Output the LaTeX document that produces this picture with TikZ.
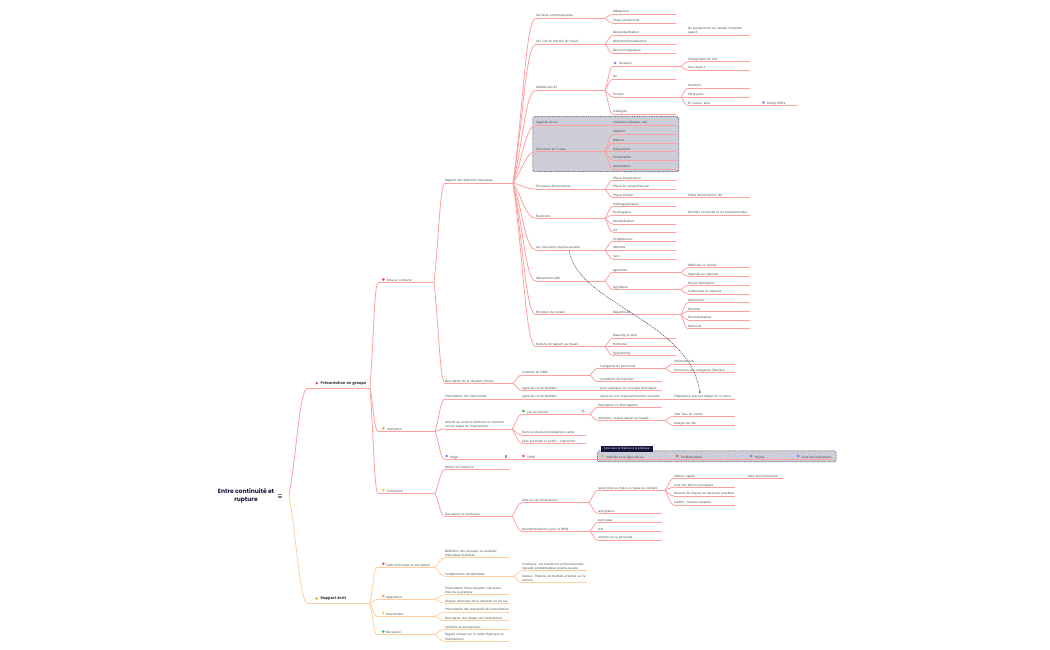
\documentclass[tikz,border=0pt]{standalone}
\usepackage{fontspec}
\setmainfont{Open Sans}
\newfontfamily\headfont{Poppins}
\usetikzlibrary{calc,arrows.meta}
\definecolor{redbr}{HTML}{FFA0A0}
\definecolor{orbr}{HTML}{FFCF9F}
\definecolor{ink}{HTML}{3A3A3A}
\definecolor{navy}{HTML}{14143C}
\definecolor{panel}{HTML}{CDCED7}
\definecolor{icred}{HTML}{F2545B}
\definecolor{icor}{HTML}{F9A64A}
\definecolor{icye}{HTML}{FBD230}
\definecolor{icgr}{HTML}{2FC76A}
\definecolor{icbl}{HTML}{7490F5}
\definecolor{icvi}{HTML}{8A7FE8}
\colorlet{br}{redbr}
\tikzset{
 topic/.style={anchor=south west,inner xsep=0pt,inner ysep=1.3pt,outer sep=0pt,text depth=0pt,text=ink,font=\fontsize{3.05}{4.3}\selectfont},
 uline/.style={draw=br,line width=.8pt},
 link/.style={draw=br,line width=.8pt},
 icondot/.style={circle,inner sep=0pt,minimum size=3pt},
 panelbox/.style={draw=navy!85,dashed,dash pattern=on 1pt off .7pt,line width=.5pt,fill=panel,rounded corners=1.5pt,inner sep=0pt,anchor=north west},
}
\newcommand\mywline[2]{\vbox{\hbox{#1}\hbox{#2}}}
\newcommand\myhead[1]{\raisebox{2pt}{\headfont\fontsize{3.75}{5}\selectfont\bfseries #1}}
% \T[offset]{id}{x0}{x1}{yline}{text}
\newcommand\T[6][0]{%
 \pgfmathsetmacro\mylen{#4-#3}%
 \node[topic,minimum width=\mylen pt,text width=\mylen pt] (#2) at (#3,#5) {\hbox{\kern#1pt#6}};
 \coordinate (#2-e) at (#2.south east);
}
\newcommand\C[2]{%
 \coordinate (m) at ($(#1-e)!.55!(#2.south west)$);
 \draw[link] (#1-e) .. controls ($(#1-e)!.45!(#2.south west)$) and (m |- #2.south west) .. (#2.south west);
 \draw[uline] (#2.south west) -- (#2.south east);
}
% \N[offset]{id}{parent}{text}{x0}{x1}{yline}
\newcommand\N[7][0]{\T[#1]{#2}{#5}{#6}{#7}{#4}\C{#3}{#2}}
\begin{document}
\begin{tikzpicture}[x=1pt,y=-1pt]
\useasboundingbox (0,0) rectangle (1050,650);
% panels
\node[panelbox,minimum width=146pt,minimum height=55pt] (boxa) at (532.5,116.5) {};
\node[panelbox,minimum width=238.5pt,minimum height=11pt] (boxb) at (597.3,450.7) {};
\node[anchor=north west,fill=navy,text=white,inner sep=0pt,minimum width=51.6pt,minimum height=6pt,font=\fontsize{2.9}{3}\selectfont] (boxl) at (600.7,445.3) {Sens avec la théorie et la pratique};
% root
\node[align=center,font=\headfont\fontsize{6}{8}\selectfont\bfseries,text=navy,inner sep=0pt] (root) at (246,496) {Entre continuité et\\rupture};
\coordinate (root-e) at (289,495.7);
\node[inner sep=0pt,minimum width=4pt,minimum height=3pt] (rooticon) at (280,495.7) {};
\draw[black!50,line width=.35pt] (278,494.4)--(282,494.4) (278,495.7)--(282,495.7) (278,497)--(282,497);
% ---------- red branch
\T[12.7]{pres}{308}{370}{388}{\myhead{Présentation en groupe}}
\C{root}{pres}
\N[9]{mise}{pres}{Mise en contexte}{378}{434}{282.7}
\N[9]{anim}{pres}{Animation}{378}{435}{431.3}
\N[9]{conc}{pres}{Conclusion}{378}{435}{493.3}
\N{rapp}{mise}{Rapport des éléments théoriques}{445}{513}{183}
\N{desc}{mise}{Description de la situation choisie}{445}{513}{383.3}
% Rapport children
\N{carr}{rapp}{Carrières contemporaines}{536}{605}{18.3}
\N{meta}{carr}{Métaphore}{613}{676}{14.3}
\N{chao}{carr}{Chaos vocationnel}{613}{676}{23.3}
\N{marc}{rapp}{Les 5 M du marché du travail}{536}{605}{44.3}
\N{dest}{marc}{Déstandardisation}{613}{681}{35.3}
\N{deso}{dest}{\mywline{De positionnent sur études n'importe}{quand}}{688}{750}{35.3}
\N{desi}{marc}{Désinstitutionnalisation}{613}{676}{44.3}
\N{dech}{marc}{Déchronologisation}{613}{676}{53}
\N{mode}{rapp}{Modèle des 4S}{536}{605}{90.3}
\N[6]{situ}{mode}{Situation}{613}{681}{66.3}
\N{chan}{situ}{Changement de rôle}{688}{750}{61.7}
\N{sous}{situ}{Sous-sujet 2}{688}{750}{70.3}
\N{soi}{mode}{Soi}{613}{676}{79.3}
\N{sout}{mode}{Soutien}{613}{681}{97}
\N{inse}{sout}{Insertion}{688}{750}{88.3}
\N{pert}{sout}{Perte pairs}{688}{750}{97}
\N{ensu}{sout}{En Suisse: aléa}{688}{755}{105.7}
\N[6]{fami}{ensu}{Family Office}{761}{797}{105.7}
\N{stra}{mode}{Stratégies}{613}{676}{114.3}
\N{lege}{rapp}{Légende de vie}{536}{605}{125.3}
\N{anip}{lege}{Animation (plateau, etc)}{613}{676}{125.3}
\N{incu}{rapp}{L'incursion en 5 axes}{536}{605}{151.7}
\N{mate}{incu}{Matérité}{613}{676}{134.3}
\N{mait}{incu}{Maîtrise}{613}{676}{143}
\N{subj}{incu}{Subjectivités}{613}{676}{151.7}
\N{temp}{incu}{Temporalités}{613}{676}{160.3}
\N{arti}{incu}{Articulations}{613}{676}{169}
\N{proc}{rapp}{Processus d'intervention}{536}{605}{189}
\N{pexp}{proc}{Phase d'exploration}{613}{676}{180.3}
\N{pcom}{proc}{Phase de compréhension}{613}{676}{189}
\N{pact}{proc}{Phase d'action}{613}{681}{197.7}
\N{pist}{pact}{Pistes d'intervention (FI)}{688}{750}{197.7}
\N{evol}{rapp}{Évolutions}{536}{605}{218.3}
\N{hete}{evol}{Hétérographiques}{613}{676}{206.3}
\N{soci}{evol}{Sociologique}{613}{681}{215}
\N{fron}{soci}{frontière vie privée et vie professionnelle}{688}{750}{215}
\N{mond}{evol}{Mondialisation}{613}{676}{224}
\N{quat}{evol}{4.0}{613}{676}{232.3}
\N{tran}{rapp}{Les transitions psycho-sociales}{536}{605}{250}
\N{comp}{tran}{Compétences}{613}{676}{241.3}
\N{iden}{tran}{Identités}{613}{676}{250}
\N{sens}{tran}{Sens}{613}{676}{259}
\N{meca}{rapp}{Mécanismes (MI)}{536}{605}{281}
\N{agen}{meca}{Agentivité}{613}{681}{272.3}
\N{mtri}{agen}{Maîtrisée ou choisie}{688}{750}{267.7}
\N{impo}{agen}{Imposée ou imposée}{688}{750}{276.3}
\N{sign}{meca}{Signifiance}{613}{681}{289.7}
\N{enje}{sign}{Enjeux identitaires}{688}{750}{285.3}
\N{cont}{sign}{Continuités et ruptures}{688}{750}{294}
\N{entr}{rapp}{Entretien de conseil}{536}{605}{314.7}
\N{rega}{entr}{Regard/outil}{613}{681}{314.7}
\N{refo}{rega}{Reformuler}{688}{750}{302.7}
\N{resu}{rega}{Résumer}{688}{750}{311.3}
\N{reco}{rega}{Recontextualiser}{688}{750}{320}
\N{renf}{rega}{Renforcer}{688}{750}{328.7}
\N{noti}{rapp}{Notions de rapport au travail}{536}{605}{346.7}
\N{mean}{noti}{Meaning of work}{613}{676}{338}
\N{harm}{noti}{Harmonie}{613}{676}{346.7}
\N{oppo}{noti}{Opportunity}{613}{676}{355.3}
% Description
\N{ctxt}{desc}{Contexte du DPAE}{522}{590}{375}
\N{lig1}{desc}{Ligne de vie de Nathalie}{522}{590}{390.3}
\N{cate}{ctxt}{. Catégories de personnel}{598}{665}{368.3}
\N{cond}{ctxt}{. Conditions de transfert}{598}{662}{381.7}
\N{expl}{lig1}{. pour expliquer les concepts théoriques}{598}{662}{390.3}
\N{inst}{cate}{Institutionnels}{674}{735}{364}
\N{pers}{cate}{Personnes aux catégories (familles)}{674}{735}{372.7}
% Animation
\N{pint}{anim}{Présentation de l'intervention}{445}{513}{399}
\N{lig2}{pint}{Ligne de vie de Nathalie}{522}{590}{399}
\N{ajou}{lig2}{. Ajout sur une rupture/transition associée}{598}{665}{399}
\N{prep}{ajou}{Préparation exercice départ (0-12 mois)}{674}{735}{399}
\N{acti}{anim}{\mywline{Activité ou exercice illustrant un moment}{ou une étape de l'intervention}}{445}{512}{429}
\N[5.7]{jeu}{acti}{Jeu du monde}{522}{590}{414.3}
\N{exer}{acti}{Exercice structuré (métaphore carte)}{522}{586}{435}
\N{fair}{acti}{Faire participer le public : interaction}{522}{586}{443.3}
\N{expi}{jeu}{Exploration et interrogation}{598}{662}{407.3}
\N{atte}{jeu}{Attention: veuves liaison au travail...}{598}{665}{420.3}
\N{gett}{atte}{«Get Tae» les cartes}{674}{735}{416.3}
\N{anar}{atte}{Analyse de rôle}{674}{735}{425.7}
\N[5.7]{regi}{anim}{Régie}{445}{513}{459.3}
\N[5.7]{dpae}{regi}{DPAE}{522}{596}{459.3}
\N[9]{nath}{dpae}{Nathalie et sa ligne de vie}{597.3}{672}{459.3}
\N[7]{prob}{nath}{Problématique}{674}{746}{459.3}
\N[6]{enjx}{prob}{Enjeux}{749}{793}{459.3}
\N[6]{list}{enjx}{Liste des Indicateurs}{796}{833}{459.3}
% Conclusion
\N{reto}{conc}{Retour sur l'exercice}{445}{509}{469.7}
\N{disc}{conc}{Discussion et conclusion}{445}{512}{516.3}
\N{effe}{disc}{effet ou set d'indicateurs}{522}{589}{502.7}
\N{reco2}{disc}{Recommandations pour la DPAE}{522}{590}{531.3}
\N{quan}{effe}{qu'est plus ou moins à risque ou résilient}{598}{665}{490.3}
\N{anti}{effe}{anticipation}{598}{662}{513.3}
\N{meti}{quan}{métiers rapide}{674}{741}{478.3}
\N{dans}{meti}{dans environnement}{748}{782.7}{478.3}
\N{vise}{quan}{viser des efforts principaux}{674}{735}{487.3}
\N{fact}{quan}{facteurs de risques en épreuves possibles}{674}{735}{496}
\N{outi}{quan}{outiller : facteurs adaptés}{674}{735}{505}
\N{tuto}{reco2}{tutor plan}{598}{662}{522.3}
\N{test}{reco2}{test}{598}{662}{531.3}
\N{cent}{reco2}{centrée sur la personne}{598}{662}{540}
% ---------- orange branch
\colorlet{br}{orbr}
\T[12.7]{ecri}{308}{370}{603}{\myhead{Rapport écrit}}
\C{root}{ecri}
\N[9]{cadr}{ecri}{Cadre théorique et conceptuel}{377}{435}{567.3}
\N[9]{appl}{ecri}{Application}{377}{435}{599.3}
\N[9]{inte}{ecri}{Intervention}{377}{435}{616.3}
\N[9]{dscu}{ecri}{Discussion}{377}{435}{634.7}
\N{defi}{cadr}{\mywline{Définition des concepts ou modèles}{théoriques mobilisés}}{445}{509.3}{557.7}
\N{cmpl}{cadr}{Compléments de littérature}{445}{514}{576.3}
\N{cnds}{cmpl}{\mywline{Condense: Les transitions professionnelles,}{nouvelle problématique psycho-sociale.}}{522}{587}{570.7}
\N{fall}{cmpl}{\mywline{Falloux: Théories et modèles-orientés sur la}{carrière}}{522}{587}{582.7}
\N{prsi}{appl}{\mywline{Présentation d'une situation vue/vécue}{tirée de la pratique}}{445}{509.3}{594.7}
\N{anal}{appl}{Analyse théorique de la situation ou du cas}{445}{509.3}{603.3}
\N{prdi}{inte}{Présentation des dispositifs de l'intervention}{445}{509.3}{612}
\N{dset}{inte}{Description des étapes de l'intervention}{445}{509.3}{620.7}
\N{synt}{dscu}{Synthèse et perspectives}{445}{509.3}{629.3}
\N{crit}{dscu}{\mywline{Regard critique sur le cadre théorique et}{l'intervention}}{445}{509.3}{641.3}
% icons
\foreach \nm/\xx/\yy/\cc in {ipres/316.7/383.2/icred,imise/383.3/279.5/icred,ianim/383.3/428.3/icor,iconc/383.3/490/icye,iecri/316.7/598.5/icor,icadr/383.3/563.8/icred,iappl/383.3/596/icor,iinte/383.3/613/icye,idscu/383.3/631.5/icgr,isitu/615/63/icbl,ifami/763.3/102.5/icbl,ijeu/523.3/411/icgr,iregi/446.7/456/icbl,idpae/523.3/456/icred,inath/602.3/456/icor,iprob/677/456/icred,ienjx/751/456/icvi,ilist/798/456/icvi}
  \node[icondot,fill=\cc] (\nm) at (\xx,\yy) {};
\node[circle,draw=black!40,fill=black!10,line width=.3pt,inner sep=0pt,minimum size=2.6pt] (icom) at (583,411) {};
\node[draw=black!40,line width=.3pt,inner sep=0pt,minimum size=1.6pt] (inote) at (505.7,456) {};
% relation
\coordinate (rels) at ($(tran.south west)+(33,0)$);
\coordinate (rele) at ($(prep.north west)+(26,-.5)$);
\draw[navy!85,line width=.45pt,dash pattern=on 1.2pt off .8pt,-{Stealth[length=2.4pt,width=1.8pt]}] (rels) .. controls (578,305) and (690,320) .. (rele);
\end{tikzpicture}
\end{document}
